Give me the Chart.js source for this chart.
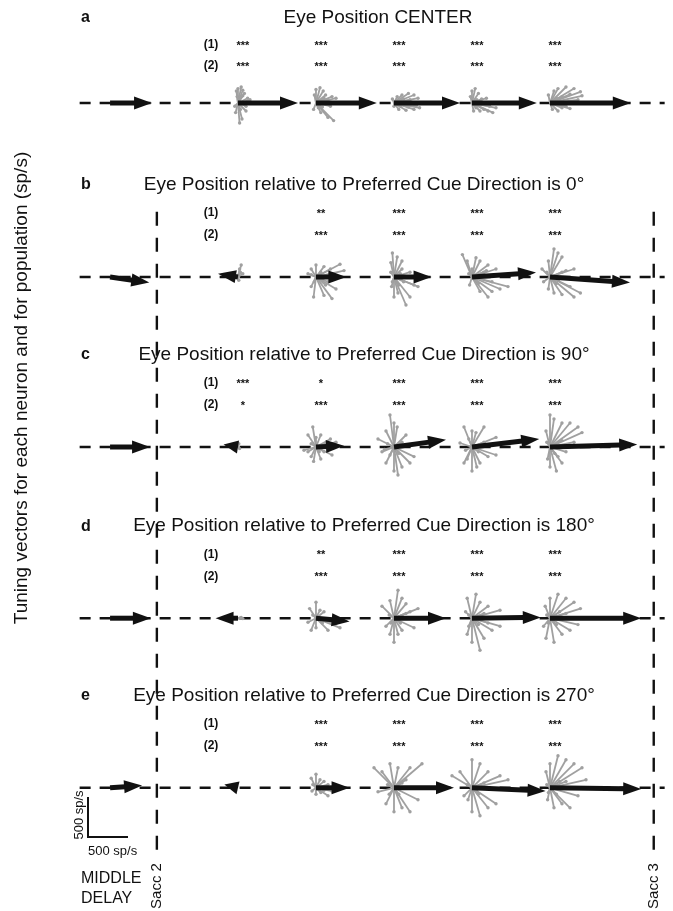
<!DOCTYPE html>
<html>
<head>
<meta charset="utf-8">
<script src="https://cdn.jsdelivr.net/npm/chart.js@4.4.1/dist/chart.umd.min.js"></script>
<style>
  html, body { margin: 0; padding: 0; background: #fff; }
  #wrap { width: 673px; height: 911px; }
</style>
</head>
<body>
<div id="wrap"><canvas id="myChart" width="673" height="911"></canvas></div>
<script>
// epochs: middle delay, then five bins after Sacc 2 (x in bin units)
const epochLabels = ["MIDDLE DELAY", "E1", "E2", "E3", "E4", "E5"];
const epochX = [-1.64, 0, 1, 2, 3, 4];
const sacc2X = -1.04;
const sacc3X = 5.33;

const panelLetters = ["a", "b", "c", "d", "e"];
const panelTitles = [
    "Eye Position CENTER",
    "Eye Position relative to Preferred Cue Direction is 0\u00B0",
    "Eye Position relative to Preferred Cue Direction is 90\u00B0",
    "Eye Position relative to Preferred Cue Direction is 180\u00B0",
    "Eye Position relative to Preferred Cue Direction is 270\u00B0"
];
// baseline of each panel, in sp/s on the shared vertical axis
const panelBase = [10100, 7925, 5800, 3660, 1540];

// significance stars, rows (1) and (2), for bins E1..E5
const stars1 = [
    ["***", "***", "***", "***", "***"],
    ["", "**", "***", "***", "***"],
    ["***", "*", "***", "***", "***"],
    ["", "**", "***", "***", "***"],
    ["", "***", "***", "***", "***"]
];
const stars2 = [
    ["***", "***", "***", "***", "***"],
    ["", "***", "***", "***", "***"],
    ["*", "***", "***", "***", "***"],
    ["", "***", "***", "***", "***"],
    ["", "***", "***", "***", "***"]
];

// population vectors [dx, dy] in sp/s, one per epoch
const popA = [[525, 0], [750, 0], [760, 0], [825, 0], [810, 0], [1010, 0]];
const popB = [[490, -70], [-250, 40], [380, 0], [470, 0], [800, 55], [1000, -70]];
const popC = [[500, 0], [-180, 30], [350, 15], [650, 90], [840, 100], [1090, 30]];
const popD = [[510, 0], [-280, 0], [420, -40], [650, 0], [860, 10], [1140, 0]];
const popE = [[400, 30], [-170, 40], [420, 0], [750, 0], [920, -40], [1140, -15]];
const popVectors = [popA, popB, popC, popD, popE];

// single neuron vectors [dx, dy] in sp/s (estimated), per panel, per epoch
const cellsA = [
    [],
    [[0,180],[40,200],[-20,150],[60,160],[80,120],[-30,-120],[20,-250],[50,-200],[100,-100],[-10,80],[120,60],[30,-80],[150,40],[100,-40],[60,90],[-40,-40]],
    [[0,170],[50,190],[90,150],[-20,100],[220,-220],[150,-180],[60,-120],[120,100],[200,80],[-30,-80],[30,-60],[250,60],[150,40],[180,-40],[100,60],[80,-50]],
    [[40,80],[100,100],[180,120],[250,100],[300,60],[-20,50],[60,-80],[150,-90],[250,-80],[320,-60],[0,-40],[200,40],[120,50],[280,-30],[80,-40],[180,-50]],
    [[0,150],[40,180],[80,120],[-20,80],[100,-100],[200,-100],[260,-120],[150,-80],[50,-60],[180,60],[300,-60],[20,-100],[120,50],[220,-40],[60,40]],
    [[100,180],[200,200],[300,180],[380,140],[400,90],[50,150],[-20,100],[150,-60],[250,-70],[100,-100],[30,-80],[350,40],[150,80],[250,110],[200,-40],[80,60]]
];
const cellsB = [
    [],
    [[20,100],[40,150],[30,60],[60,40],[10,-40]],
    [[0,150],[-60,100],[-100,40],[-60,-120],[-30,-250],[100,-230],[200,-270],[250,-150],[180,100],[300,160],[350,80],[100,130],[-20,-60],[150,-60],[60,60],[120,-100],[-60,30],[80,-40]],
    [[-20,300],[40,250],[100,200],[-40,180],[0,-250],[50,-200],[150,-350],[200,-250],[-30,-120],[250,-100],[300,-120],[100,100],[200,60],[-40,60],[60,-100],[120,-60],[-20,-60],[80,40]],
    [[-120,280],[-60,200],[50,240],[100,200],[200,150],[300,100],[-30,-100],[100,-180],[250,-180],[350,-150],[450,-120],[200,-250],[0,100],[150,60],[80,-80],[250,-60],[-40,40],[180,80]],
    [[50,350],[100,300],[150,250],[-20,200],[-100,100],[-20,-150],[50,-200],[150,-220],[300,-250],[380,-200],[250,-120],[200,80],[300,100],[-80,-60],[80,-80],[150,60],[-40,60],[100,-40]]
];
const cellsC = [
    [],
    [[10,40],[20,-20]],
    [[-40,250],[-100,150],[0,120],[60,150],[180,100],[250,60],[-60,-120],[-30,-180],[60,-150],[200,-100],[-150,-40],[100,-60],[-60,40],[40,-60],[120,40],[-100,-60]],
    [[-50,400],[0,300],[40,250],[-100,200],[-200,100],[-150,-60],[-100,-200],[0,-300],[50,-350],[100,-250],[200,-200],[250,-120],[150,150],[-50,-100],[-80,40],[60,-80],[100,60],[-120,-30]],
    [[-100,250],[0,200],[50,180],[150,250],[300,120],[-150,50],[-100,-200],[0,-300],[60,-250],[100,-200],[200,-120],[300,-100],[-60,-150],[-80,-40],[80,-60],[150,60],[-40,100]],
    [[0,400],[50,350],[150,300],[250,300],[350,250],[400,180],[-50,200],[-30,-150],[0,-250],[80,-300],[150,-200],[100,-120],[300,60],[60,-80],[150,80],[-40,60],[200,-60]]
];
const cellsD = [
    [],
    [[20,0],[40,10],[60,-5]],
    [[-80,120],[0,200],[50,100],[-100,-50],[-60,-150],[0,-120],[150,-150],[300,-120],[250,-70],[100,80],[-40,40],[80,-60],[180,-40]],
    [[-150,150],[-50,220],[50,350],[100,250],[150,180],[-100,-100],[-50,-200],[0,-300],[50,-200],[100,-150],[250,-120],[200,80],[300,120],[-60,40],[80,-60],[150,60],[-40,-60]],
    [[-60,250],[50,300],[100,200],[200,150],[350,100],[-80,80],[-60,-200],[0,-300],[100,-400],[150,-250],[250,-150],[350,-100],[-40,-100],[80,-80],[150,60],[-40,40],[200,-60]],
    [[0,250],[100,300],[200,250],[300,200],[380,120],[-60,150],[-80,-100],[-50,-250],[50,-300],[150,-200],[250,-150],[350,-80],[200,60],[80,-80],[120,80],[-40,40],[-20,-60]]
];
const cellsE = [
    [],
    [],
    [[-60,120],[0,170],[50,100],[100,80],[-50,-40],[0,-80],[60,-60],[150,-100],[200,-40],[-40,40],[100,-30],[150,40]],
    [[-250,250],[-150,200],[-50,300],[50,250],[200,250],[350,300],[-200,-50],[-100,-200],[0,-300],[100,-250],[200,-300],[300,-150],[150,100],[-80,40],[60,-80],[100,60],[-60,-80]],
    [[-250,150],[-150,200],[0,350],[100,300],[200,200],[350,150],[450,100],[-100,-100],[0,-300],[100,-350],[200,-250],[300,-200],[-50,-150],[-60,40],[80,-80],[150,60],[60,-40]],
    [[0,300],[100,400],[200,350],[300,300],[400,250],[-50,200],[-30,-150],[50,-250],[150,-200],[250,-250],[350,-100],[200,80],[450,100],[80,-80],[120,80],[-40,40],[-20,-60]]
];
const cellVectors = [cellsA, cellsB, cellsC, cellsD, cellsE];

const scaleBarValue = 500; // sp/s
const lineStartX = -2.03;
const lineEndX = 5.47;
const saccTop = 8740;
const saccBottom = 740;

const FONT = "'Liberation Sans', Arial, sans-serif";

// datasets: dashed baselines and the two saccade lines
const datasets = [];
panelBase.forEach((b) => {
    datasets.push({
        type: "line",
        data: [{ x: lineStartX, y: b }, { x: lineEndX, y: b }],
        borderColor: "#111",
        borderWidth: 2.4,
        borderDash: [11, 9],
        pointRadius: 0
    });
});
[sacc2X, sacc3X].forEach((sx) => {
    datasets.push({
        type: "line",
        data: [{ x: sx, y: saccTop }, { x: sx, y: saccBottom }],
        borderColor: "#111",
        borderWidth: 2.4,
        borderDash: [14, 12],
        pointRadius: 0
    });
});

function drawArrow(ctx, x0, y0, x1, y1) {
    const dx = x1 - x0, dy = y1 - y0;
    const len = Math.hypot(dx, dy);
    if (len < 0.5) return;
    const ux = dx / len, uy = dy / len;
    const headLen = Math.min(18, Math.max(len, 13));
    const headW = 6.5;
    const bx = x1 - ux * headLen, by = y1 - uy * headLen;
    if (len > headLen) {
        ctx.beginPath();
        ctx.moveTo(x0, y0);
        ctx.lineTo(bx + ux, by + uy);
        ctx.lineWidth = 5;
        ctx.strokeStyle = "#111";
        ctx.stroke();
    }
    ctx.beginPath();
    ctx.moveTo(x1, y1);
    ctx.lineTo(bx - uy * headW, by + ux * headW);
    ctx.lineTo(bx + uy * headW, by - ux * headW);
    ctx.closePath();
    ctx.fillStyle = "#111";
    ctx.fill();
}

const vectorPlugin = {
    id: "vectors",
    afterDatasetsDraw(chart) {
        const ctx = chart.ctx;
        const xs = chart.scales.x, ys = chart.scales.y;
        const k = ys.getPixelForValue(0) - ys.getPixelForValue(1); // px per sp/s
        ctx.save();
        // single neuron vectors (grey)
        panelBase.forEach((b, p) => {
            epochX.forEach((ex, i) => {
                const ox = xs.getPixelForValue(ex);
                const oy = ys.getPixelForValue(b);
                cellVectors[p][i].forEach(([dx, dy]) => {
                    const tx = ox + dx * k;
                    const ty = ys.getPixelForValue(b + dy);
                    ctx.beginPath();
                    ctx.moveTo(ox, oy);
                    ctx.lineTo(tx, ty);
                    ctx.strokeStyle = "#a0a0a0";
                    ctx.lineWidth = 1.8;
                    ctx.stroke();
                    ctx.beginPath();
                    ctx.arc(tx, ty, 1.7, 0, Math.PI * 2);
                    ctx.fillStyle = "#a0a0a0";
                    ctx.fill();
                });
            });
        });
        // population vectors (black)
        panelBase.forEach((b, p) => {
            epochX.forEach((ex, i) => {
                const [dx, dy] = popVectors[p][i];
                const ox = xs.getPixelForValue(ex);
                drawArrow(ctx, ox, ys.getPixelForValue(b), ox + dx * k, ys.getPixelForValue(b + dy));
            });
        });
        ctx.restore();
    }
};

const textPlugin = {
    id: "texts",
    afterDraw(chart) {
        const ctx = chart.ctx;
        const xs = chart.scales.x, ys = chart.scales.y;
        const k = ys.getPixelForValue(0) - ys.getPixelForValue(1);
        ctx.save();
        ctx.fillStyle = "#111";
        ctx.textBaseline = "middle";
        panelBase.forEach((b, p) => {
            const by = ys.getPixelForValue(b);
            const titleDy = p === 0 ? -85 : -92;
            const row1 = p === 0 ? -58 : -64;
            const row2 = p === 0 ? -37 : -42;
            ctx.textAlign = "left";
            ctx.font = "bold 16px " + FONT;
            ctx.fillText(panelLetters[p], 81, by + titleDy);
            ctx.textAlign = "center";
            ctx.font = "19px " + FONT;
            ctx.fillText(panelTitles[p], p === 0 ? 378 : 364, by + titleDy);
            ctx.font = "bold 12px " + FONT;
            ctx.fillText("(1)", 211, by + row1);
            ctx.fillText("(2)", 211, by + row2);
            ctx.font = "bold 11px " + FONT;
            for (let i = 0; i < 5; i++) {
                const cx = xs.getPixelForValue(epochX[i + 1]) + 5;
                ctx.fillText(stars1[p][i], cx, by + row1 + 1);
                ctx.fillText(stars2[p][i], cx, by + row2 + 1);
            }
        });
        // y axis title
        ctx.save();
        ctx.translate(22, 388);
        ctx.rotate(-Math.PI / 2);
        ctx.font = "19px " + FONT;
        ctx.fillText("Tuning vectors for each neuron and for population (sp/s)", 0, 0);
        ctx.restore();
        // saccade labels
        [[sacc2X, "Sacc 2"], [sacc3X, "Sacc 3"]].forEach(([sx, label]) => {
            ctx.save();
            ctx.translate(xs.getPixelForValue(sx), 886);
            ctx.rotate(-Math.PI / 2);
            ctx.font = "15px " + FONT;
            ctx.fillText(label, 0, 0);
            ctx.restore();
        });
        // scale bar
        const barLen = scaleBarValue * k;
        const bx = 88, byBottom = 837;
        ctx.beginPath();
        ctx.moveTo(bx, byBottom - barLen);
        ctx.lineTo(bx, byBottom);
        ctx.lineTo(bx + barLen, byBottom);
        ctx.lineWidth = 2;
        ctx.strokeStyle = "#111";
        ctx.stroke();
        ctx.font = "13px " + FONT;
        ctx.textAlign = "left";
        ctx.fillText(scaleBarValue + " sp/s", 88, 851);
        ctx.save();
        ctx.translate(79, 815);
        ctx.rotate(-Math.PI / 2);
        ctx.textAlign = "center";
        ctx.fillText(scaleBarValue + " sp/s", 0, 0);
        ctx.restore();
        ctx.font = "16px " + FONT;
        ctx.textAlign = "left";
        ctx.fillText("MIDDLE", 81, 879);
        ctx.fillText("DELAY", 81, 899);
        ctx.restore();
    }
};

new Chart("myChart", {
    type: "scatter",
    data: { datasets: datasets },
    options: {
        responsive: false,
        animation: false,
        layout: { padding: 0 },
        plugins: { legend: { display: false }, tooltip: { enabled: false } },
        scales: {
            x: { type: "linear", display: false, min: -3.051, max: 5.577 },
            y: { type: "linear", display: false, min: 0, max: 11387.5 }
        }
    },
    plugins: [vectorPlugin, textPlugin]
});
</script>
</body>
</html>
